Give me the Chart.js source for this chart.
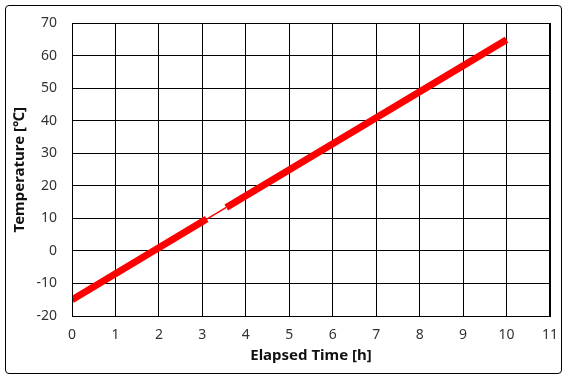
<!DOCTYPE html>
<html>
<head>
<meta charset="utf-8">
<script src="https://cdn.jsdelivr.net/npm/chart.js@4/dist/chart.umd.min.js"></script>
<style>
  html, body { margin: 0; padding: 0; background: #fff; }
  #wrap { position: relative; width: 569px; height: 379px; }
  #frame {
    position: absolute; left: 5px; top: 5px; width: 555px; height: 367px;
    border: 1px solid #000; border-radius: 4px; pointer-events: none;
  }
</style>
</head>
<body>
<div id="wrap">
  <canvas id="chart" width="569" height="379"></canvas>
  <div id="frame"></div>
</div>
<script>
// heating run
const timeA = [0, 3.1]
const tempA = [-15, 9.8]
const timeGap = [3.1, 3.55]
const tempGap = [9.8, 13.4]
const timeB = [3.55, 10]
const tempB = [13.4, 65]

const xTicks = [0, 1, 2, 3, 4, 5, 6, 7, 8, 9, 10, 11]
const yTicks = [-20, -10, 0, 10, 20, 30, 40, 50, 60, 70]

const toPts = (xs, ys) => xs.map((x, i) => ({ x, y: ys[i] }))

const FONT = '"Noto Sans", "DejaVu Sans", sans-serif'

function series(xs, ys, width) {
  return {
    data: toPts(xs, ys),
    borderColor: '#ff0000',
    borderWidth: width,
    pointRadius: 0,
    tension: 0,
    showLine: true,
    fill: false
  }
}

new Chart(document.getElementById('chart').getContext('2d'), {
  type: 'scatter',
  data: {
    datasets: [
      series(timeA, tempA, 7),
      series(timeGap, tempGap, 1.5),
      series(timeB, tempB, 7)
    ]
  },
  options: {
    responsive: false,
    animation: false,
    layout: { padding: { left: 0, top: 16, right: 19, bottom: 0 } },
    plugins: { legend: { display: false }, tooltip: { enabled: false } },
    scales: {
      x: {
        type: 'linear',
        min: 0, max: 11,
        afterBuildTicks: (s) => { s.ticks = xTicks.map(v => ({ value: v })) },
        afterFit: (s) => { s.height = 63 },
        grid: { color: '#000', lineWidth: 1, drawTicks: false },
        border: { color: '#000', width: 1 },
        ticks: { color: '#333', padding: 11, font: { family: FONT, size: 14 } },
        title: {
          display: true, text: 'Elapsed Time [h]', color: '#111',
          padding: { top: 0, bottom: 14 },
          font: { family: FONT, size: 15, weight: 'bold' }
        }
      },
      y: {
        type: 'linear',
        min: -20, max: 70,
        afterBuildTicks: (s) => { s.ticks = yTicks.map(v => ({ value: v })) },
        afterFit: (s) => { s.width = 72 },
        grid: { color: '#000', lineWidth: 1, drawTicks: false },
        border: { color: '#000', width: 1 },
        ticks: { color: '#333', padding: 15, font: { family: FONT, size: 14 } },
        title: {
          display: true, text: 'Temperature [℃]', color: '#111',
          padding: { top: 11, bottom: 0 },
          font: { family: FONT, size: 15, weight: 'bold' }
        }
      }
    }
  },
  plugins: [{
    // right edge of the plot area has a gridline too
    id: 'rightEdge',
    afterDraw(chart) {
      const { ctx, chartArea: a } = chart
      ctx.save()
      ctx.strokeStyle = '#000'
      ctx.lineWidth = 1
      ctx.strokeRect(Math.round(a.left) + 0.5, Math.round(a.top) + 0.5,
        Math.round(a.right - a.left), Math.round(a.bottom - a.top))
      ctx.restore()
    }
  }]
})
</script>
</body>
</html>
